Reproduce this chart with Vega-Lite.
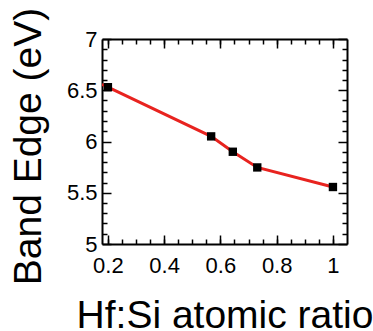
{
  "$schema": "https://vega.github.io/schema/vega-lite/v6.json",
  "width": 245,
  "height": 205,
  "autosize": "none",
  "padding": {"left": 102, "top": 39, "right": 26, "bottom": 87},
  "background": "white",
  "config": {
    "view": {"stroke": null},
    "font": "Liberation Sans",
    "axis": {
      "grid": false,
      "domainColor": "black",
      "domainWidth": 2,
      "tickColor": "black",
      "tickWidth": 1.5,
      "labelFont": "Liberation Sans",
      "labelFontSize": 22,
      "labelColor": "black",
      "labelOverlap": false,
      "titleFont": "Liberation Sans",
      "titleFontSize": 39,
      "titleFontWeight": "normal",
      "titleColor": "black"
    }
  },
  "datasets": {
    "pts": [
      {"ratio": 0.2, "edge": 6.53},
      {"ratio": 0.567, "edge": 6.05},
      {"ratio": 0.644, "edge": 5.9},
      {"ratio": 0.731, "edge": 5.747},
      {"ratio": 1.0, "edge": 5.556}
    ],
    "curve": [
      {"ratio": 0.179, "edge": 6.557},
      {"ratio": 0.2, "edge": 6.53},
      {"ratio": 0.567, "edge": 6.05},
      {"ratio": 0.644, "edge": 5.9},
      {"ratio": 0.731, "edge": 5.747},
      {"ratio": 1.0, "edge": 5.556}
    ]
  },
  "layer": [
    {
      "data": {"name": "curve"},
      "mark": {"type": "line", "color": "#e8231f", "strokeWidth": 3, "clip": true},
      "encoding": {
        "x": {
          "field": "ratio", "type": "quantitative",
          "scale": {"domain": [0.179, 1.05], "nice": false, "zero": false},
          "axis": {
            "orient": "bottom", "values": [0.2, 0.4, 0.6, 0.8, 1],
            "tickSize": -9, "labelPadding": 20, "labelExpr": "datum.value == 1 ? '1' : format(datum.value, '.1f')",
            "title": "Hf:Si atomic ratio", "titleY": 83, "titleBaseline": "alphabetic"
          }
        },
        "y": {
          "field": "edge", "type": "quantitative",
          "scale": {"domain": [5, 7], "nice": false, "zero": false},
          "axis": {
            "orient": "left", "values": [5, 5.5, 6, 6.5, 7],
            "tickSize": -9, "labelPadding": 14,
            "labelExpr": "format(datum.value, '~g')",
            "title": "Band Edge (eV)", "titleX": -62, "titleY": 107, "titleBaseline": "alphabetic"
          }
        }
      }
    },
    {
      "data": {"name": "pts"},
      "mark": {"type": "square", "size": 70, "color": "black", "opacity": 1},
      "encoding": {
        "x": {
          "field": "ratio", "type": "quantitative",
          "axis": {
            "orient": "bottom",
            "values": [0.2, 0.25, 0.3, 0.35, 0.4, 0.45, 0.5, 0.55, 0.6, 0.65, 0.7, 0.75, 0.8, 0.85, 0.9, 0.95, 1.0],
            "tickSize": -5, "labels": false, "domain": false, "title": null
          }
        },
        "y": {
          "field": "edge", "type": "quantitative",
          "axis": {
            "orient": "left",
            "values": [5.1, 5.2, 5.3, 5.4, 5.6, 5.7, 5.8, 5.9, 6.1, 6.2, 6.3, 6.4, 6.6, 6.7, 6.8, 6.9],
            "tickSize": -5, "labels": false, "domain": false, "title": null
          }
        }
      }
    },
    {
      "data": {"name": "pts"},
      "mark": {"type": "point", "opacity": 0},
      "encoding": {
        "x": {
          "field": "ratio", "type": "quantitative",
          "axis": {
            "orient": "top", "values": [0.2, 0.4, 0.6, 0.8, 1],
            "tickSize": -9, "labels": false, "title": null
          }
        },
        "y": {
          "field": "edge", "type": "quantitative",
          "axis": {
            "orient": "right", "values": [5, 5.5, 6, 6.5, 7],
            "tickSize": -9, "labels": false, "title": null
          }
        }
      }
    },
    {
      "data": {"name": "pts"},
      "mark": {"type": "point", "opacity": 0},
      "encoding": {
        "x": {
          "field": "ratio", "type": "quantitative",
          "axis": {
            "orient": "top",
            "values": [0.2, 0.25, 0.3, 0.35, 0.4, 0.45, 0.5, 0.55, 0.6, 0.65, 0.7, 0.75, 0.8, 0.85, 0.9, 0.95, 1.0],
            "tickSize": -5, "labels": false, "domain": false, "title": null
          }
        },
        "y": {
          "field": "edge", "type": "quantitative",
          "axis": {
            "orient": "right",
            "values": [5.1, 5.2, 5.3, 5.4, 5.6, 5.7, 5.8, 5.9, 6.1, 6.2, 6.3, 6.4, 6.6, 6.7, 6.8, 6.9],
            "tickSize": -5, "labels": false, "domain": false, "title": null
          }
        }
      }
    }
  ],
  "resolve": {"axis": {"x": "independent", "y": "independent"}}
}
